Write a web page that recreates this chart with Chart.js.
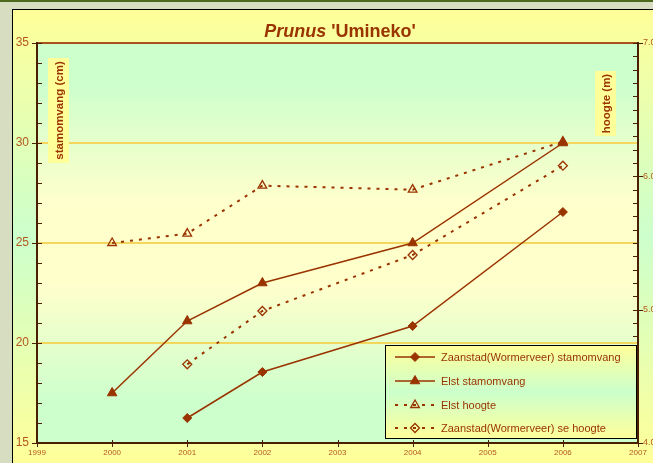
<!DOCTYPE html>
<html><head><meta charset="utf-8">
<script src="https://cdn.jsdelivr.net/npm/chart.js@4/dist/chart.umd.min.js"></script>
<style>html,body{margin:0;padding:0;overflow:hidden;background:#d6ddc0}
#wrap{width:653px;height:463px;position:relative}</style>
</head><body><div id="wrap"><canvas id="c" width="653" height="463"></canvas></div>
<script>
// ---- data ----
const titleItalic = 'Prunus';
const titleRest = " 'Umineko'";
const leftAxisTitle = 'stamomvang (cm)';
const rightAxisTitle = 'hoogte (m)';
const seriesNames = ['Zaanstad(Wormerveer) stamomvang', 'Elst stamomvang', 'Elst hoogte', 'Zaanstad(Wormerveer) se hoogte'];
const zaanstadYears = [2001, 2002, 2004, 2006];
const elstYears = [2000, 2001, 2002, 2004, 2006];
const zaanstadStam = [16.25, 18.55, 20.85, 26.55];
const elstStam = [17.5, 21.1, 23.0, 25.0, 30.0];
const elstHoogte = [5.5, 5.57, 5.93, 5.9, 6.26];
const zaanstadHoogte = [4.59, 4.99, 5.41, 6.08];
const xMin = 1999, xMax = 2007;
const leftMin = 15, leftMax = 35, leftStep = 5;
const rightMin = 4, rightMax = 7, rightStep = 1;

const FONT = "'Liberation Sans', Arial, sans-serif";
const BROWN = '#993300';
const TICKCOL = '#b4581e';
const pts = (xs, ys) => xs.map((x, i) => ({x: x, y: ys[i]}));

function yGrad(ctx, y0, y1, stops) {
  const g = ctx.createLinearGradient(0, y0, 0, y1);
  stops.forEach(s => g.addColorStop(s[0], s[1]));
  return g;
}

const decor = {
  id: 'decor',
  beforeDraw(chart) {
    const {ctx, chartArea: a, width, height} = chart;
    ctx.save();
    ctx.fillStyle = '#d6ddc0'; ctx.fillRect(0, 0, width, height);
    ctx.fillStyle = '#4b6a1e'; ctx.fillRect(0, 0, width, 2);
    ctx.fillStyle = yGrad(ctx, 10, height, [[0, '#ffff99'], [0.5, '#ccffcc'], [1, '#ffff99']]);
    ctx.fillRect(13, 10, width - 13, height - 10);
    ctx.fillStyle = '#000';
    ctx.fillRect(12, 9, width - 12, 1);
    ctx.fillRect(12, 9, 1, height - 9);
    ctx.fillStyle = yGrad(ctx, a.top, a.bottom, [[0, '#ccffcc'], [0.1, '#ccffcc'], [0.4, '#ffffcc'], [0.6, '#ffffcc'], [0.9, '#ccffcc'], [1, '#ccffcc']]);
    ctx.fillRect(a.left, a.top, a.right - a.left, a.bottom - a.top);
    // title
    ctx.fillStyle = BROWN;
    ctx.textBaseline = 'alphabetic';
    ctx.font = 'italic bold 18px ' + FONT;
    const w1 = ctx.measureText(titleItalic).width;
    ctx.font = 'bold 18px ' + FONT;
    const w2 = ctx.measureText(titleRest).width;
    const x0 = 340 - (w1 + w2) / 2;
    ctx.font = 'italic bold 18px ' + FONT;
    ctx.fillText(titleItalic, x0, 37);
    ctx.font = 'bold 18px ' + FONT;
    ctx.fillText(titleRest, x0 + w1, 37);
    ctx.restore();
  },
  beforeDatasetsDraw(chart) {
    const {ctx} = chart;
    ctx.save();
    const boxes = [[48, 58, 21, 105, leftAxisTitle], [595, 71, 21, 65, rightAxisTitle]];
    boxes.forEach(b => {
      ctx.fillStyle = '#ffff99';
      ctx.fillRect(b[0], b[1], b[2], b[3]);
      ctx.save();
      ctx.translate(b[0] + b[2] / 2 + 1, b[1] + b[3] / 2);
      ctx.rotate(-Math.PI / 2);
      ctx.fillStyle = BROWN;
      ctx.font = 'bold 11.5px ' + FONT;
      ctx.textAlign = 'center';
      ctx.textBaseline = 'middle';
      ctx.fillText(b[4], 0, 0);
      ctx.restore();
    });
    ctx.restore();
  },
  afterDraw(chart) {
    const {ctx, chartArea: a, scales} = chart;
    ctx.save();
    // top border
    ctx.fillStyle = '#a8521c';
    ctx.fillRect(a.left, a.top - 1, a.right - a.left, 2);
    ctx.fillStyle = '#4a1e00';
    // left axis
    ctx.fillRect(a.left - 1, a.top - 1, 2, a.bottom - a.top + 2);
    for (let v = leftMin; v <= leftMax; v += 1) {
      const y = Math.round(scales.y.getPixelForValue(v));
      if (v % leftStep === 0) ctx.fillRect(a.left - 5, y, 10, 1);
      else ctx.fillRect(a.left, y, 5, 1);
    }
    // right axis
    ctx.fillRect(a.right - 1, a.top - 1, 2, a.bottom - a.top + 2);
    for (let k = 0; k <= (rightMax - rightMin) * 10; k++) {
      const v = rightMin + k / 10;
      const y = Math.round(scales.y1.getPixelForValue(v));
      if (k % 10 === 0) ctx.fillRect(a.right - 5, y, 10, 1);
      else ctx.fillRect(a.right - 5, y, 5, 1);
    }
    // bottom axis
    ctx.fillRect(a.left - 1, a.bottom - 1, a.right - a.left + 2, 2);
    for (let v = xMin; v <= xMax; v++) {
      const x = Math.round(scales.x.getPixelForValue(v));
      ctx.fillRect(x, a.bottom - 3, 1, 7);
    }
    // legend
    const L = {x: 385, y: 345, w: 252, h: 94};
    ctx.fillStyle = yGrad(ctx, L.y, L.y + L.h, [[0, '#ffff99'], [0.5, '#ccffcc'], [1, '#ffff99']]);
    ctx.fillRect(L.x, L.y, L.w, L.h);
    ctx.strokeStyle = '#000';
    ctx.lineWidth = 1;
    ctx.strokeRect(L.x + 0.5, L.y + 0.5, L.w - 1, L.h - 1);
    const rows = [357, 381, 405, 428];
    chart.data.datasets.forEach((ds, i) => {
      const y = rows[i];
      ctx.save();
      ctx.strokeStyle = ds.borderColor;
      ctx.lineWidth = ds.borderWidth;
      ctx.setLineDash(ds.borderDash || []);
      ctx.beginPath(); ctx.moveTo(395, y); ctx.lineTo(435, y); ctx.stroke();
      ctx.setLineDash([]);
      ctx.fillStyle = ds.pointBackgroundColor;
      ctx.strokeStyle = ds.pointBorderColor;
      ctx.lineWidth = ds.pointBorderWidth;
      Chart.helpers.drawPoint(ctx, {pointStyle: ds.pointStyle, radius: ds.pointRadius, borderWidth: ds.pointBorderWidth, rotation: 0}, 415, y);
      ctx.restore();
      ctx.fillStyle = BROWN;
      ctx.font = '11px ' + FONT;
      ctx.textBaseline = 'middle';
      ctx.fillText(ds.label, 441, y + 1);
    });
    ctx.restore();
  }
};

const solid = (label, data, style, r) => ({
  label, data, yAxisID: 'y', borderColor: BROWN, borderWidth: 1.5,
  pointStyle: style, pointRadius: r, pointBackgroundColor: BROWN, pointBorderColor: BROWN, pointBorderWidth: 1
});
const dotted = (label, data, style, r) => ({
  label, data, yAxisID: 'y1', borderColor: BROWN, borderWidth: 2, borderDash: [3, 6],
  pointStyle: style, pointRadius: r, pointBackgroundColor: 'rgba(0,0,0,0)', pointBorderColor: BROWN, pointBorderWidth: 1.3
});

new Chart(document.getElementById('c'), {
  type: 'line',
  data: {
    datasets: [
      solid(seriesNames[0], pts(zaanstadYears, zaanstadStam), 'rectRot', 4.5),
      solid(seriesNames[1], pts(elstYears, elstStam), 'triangle', 5.5),
      dotted(seriesNames[2], pts(elstYears, elstHoogte), 'triangle', 5),
      dotted(seriesNames[3], pts(zaanstadYears, zaanstadHoogte), 'rectRot', 4.5)
    ]
  },
  options: {
    responsive: false, animation: false, devicePixelRatio: 1,
    layout: {padding: {top: 43, left: 0, right: 0, bottom: 0}},
    plugins: {legend: {display: false}, title: {display: false}, tooltip: {enabled: false}},
    elements: {line: {tension: 0}},
    scales: {
      x: {
        type: 'linear', min: xMin, max: xMax, position: 'bottom',
        ticks: {stepSize: 1, autoSkip: false, maxRotation: 0, color: TICKCOL, font: {size: 8, family: FONT}, padding: 5, callback: v => String(v)},
        grid: {display: false, drawTicks: false}, border: {display: false},
        afterFit: s => { s.height = 20; }
      },
      y: {
        position: 'left', min: leftMin, max: leftMax,
        ticks: {stepSize: leftStep, color: TICKCOL, font: {size: 12, family: FONT}, padding: 8},
        grid: {drawTicks: false, lineWidth: 2, color: c => (c.tick && (c.tick.value === leftMin || c.tick.value === leftMax)) ? 'rgba(0,0,0,0)' : '#f3d65c'},
        border: {display: false},
        afterFit: s => { s.width = 37; }
      },
      y1: {
        position: 'right', min: rightMin, max: rightMax,
        ticks: {stepSize: rightStep, color: TICKCOL, font: {size: 9, family: FONT}, padding: 5, callback: v => v.toFixed(1)},
        grid: {display: false, drawTicks: false}, border: {display: false},
        afterFit: s => { s.width = 15; }
      }
    }
  },
  plugins: [decor]
});
</script></body></html>
